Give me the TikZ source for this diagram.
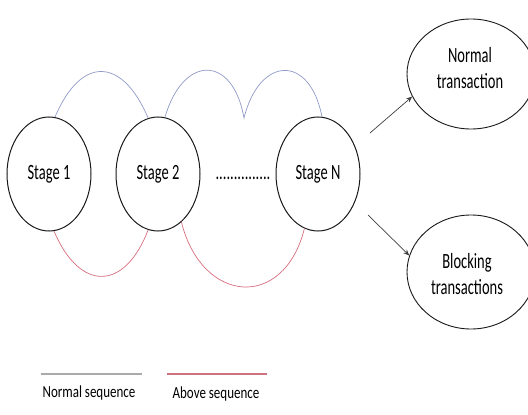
\documentclass[tikz,border=0pt]{standalone}
\usepackage{fontspec}
\usepackage{graphicx}
\setmainfont{Carlito}
\usetikzlibrary{shapes.geometric,arrows.meta}
\definecolor{seqblue}{RGB}{145,155,200}
\definecolor{seqred}{RGB}{215,110,125}
\definecolor{leggray}{RGB}{170,170,170}
\definecolor{legred}{RGB}{205,115,125}
\newcommand{\tallt}[1]{\scalebox{1}[1.5]{#1}}
\newcommand{\talll}[1]{\scalebox{1}[1.3]{#1}}
\begin{document}
\begin{tikzpicture}[x=1pt,y=-1pt,
  stage/.style={ellipse,draw=black!90,line width=1pt,minimum width=84pt,minimum height=114pt,inner sep=0pt,font=\fontsize{14.5}{17}\selectfont},
  outcome/.style={ellipse,draw=black!90,line width=0.9pt,inner sep=0pt},
  txt/.style={font=\fontsize{14.5}{17.5}\selectfont,inner sep=0pt},
  normseq/.style={draw=seqblue,line width=0.7pt},
  aboveseq/.style={draw=seqred,line width=0.7pt},
  flow/.style={draw=black!75,line width=0.7pt,-{Stealth[length=6pt,width=5pt]}},
  legline/.style={line width=1.2pt},
  legendtxt/.style={font=\fontsize{13}{15}\selectfont,inner sep=0pt}]
\useasboundingbox (0,0) rectangle (528,415);
\fill[white] (0,0) rectangle (528,415);

% stages
\node[stage] (s1) at (49,174) {\tallt{Stage 1}};
\node[stage] (s2) at (158,174) {\tallt{Stage 2}};
\node[stage] (sN) at (318,174) {\tallt{Stage N}};
\node[font=\fontsize{14.5}{17}\selectfont,inner sep=0pt] (dots) at (243,178) {\tallt{...............}};

% outcomes
\node[outcome,minimum width=128pt,minimum height=110pt] (normal) at (471,74) {};
\node[txt] (normaltxt) at (470,70) {\tallt{\begin{tabular}{@{}c@{}}Normal\\transaction\end{tabular}}};
\node[outcome,minimum width=128pt,minimum height=114pt] (blocking) at (471,272) {};
\node[txt] (blockingtxt) at (467,276) {\tallt{\begin{tabular}{@{}c@{}}Blocking\\transactions\end{tabular}}};

% normal sequence arcs (above)
\draw[normseq] (s1.84) to[out=67,in=113,looseness=1.83] (s2.100);
\coordinate (cusp) at (244,118);
\draw[normseq] (s2.83) to[out=74,in=100,looseness=2.1] (cusp)
                       to[out=76,in=101,looseness=2.1] (sN.86);

% above sequence arcs (below)
\draw[aboveseq] (s1.-85) to[out=-67,in=-111,looseness=1.79] (s2.-100);
\draw[aboveseq] (s2.-64) to[out=-76,in=-104,looseness=1.76] (sN.-104);

% arrows
\coordinate (up0) at (370,133);
\coordinate (dn0) at (368,215);
\draw[flow] (up0) -- (normal.201);
\draw[flow] (dn0) -- (blocking.165);

% legend
\coordinate (lg1a) at (41,374);
\coordinate (lg1b) at (142,374);
\coordinate (lg2a) at (167,374);
\coordinate (lg2b) at (267,374);
\draw[legline,leggray] (lg1a) -- (lg1b);
\draw[legline,legred] (lg2a) -- (lg2b);
\node[legendtxt] (lgt1) at (89,393) {\talll{Normal sequence}};
\node[legendtxt] (lgt2) at (216,394) {\talll{Above sequence}};
\end{tikzpicture}
\end{document}
